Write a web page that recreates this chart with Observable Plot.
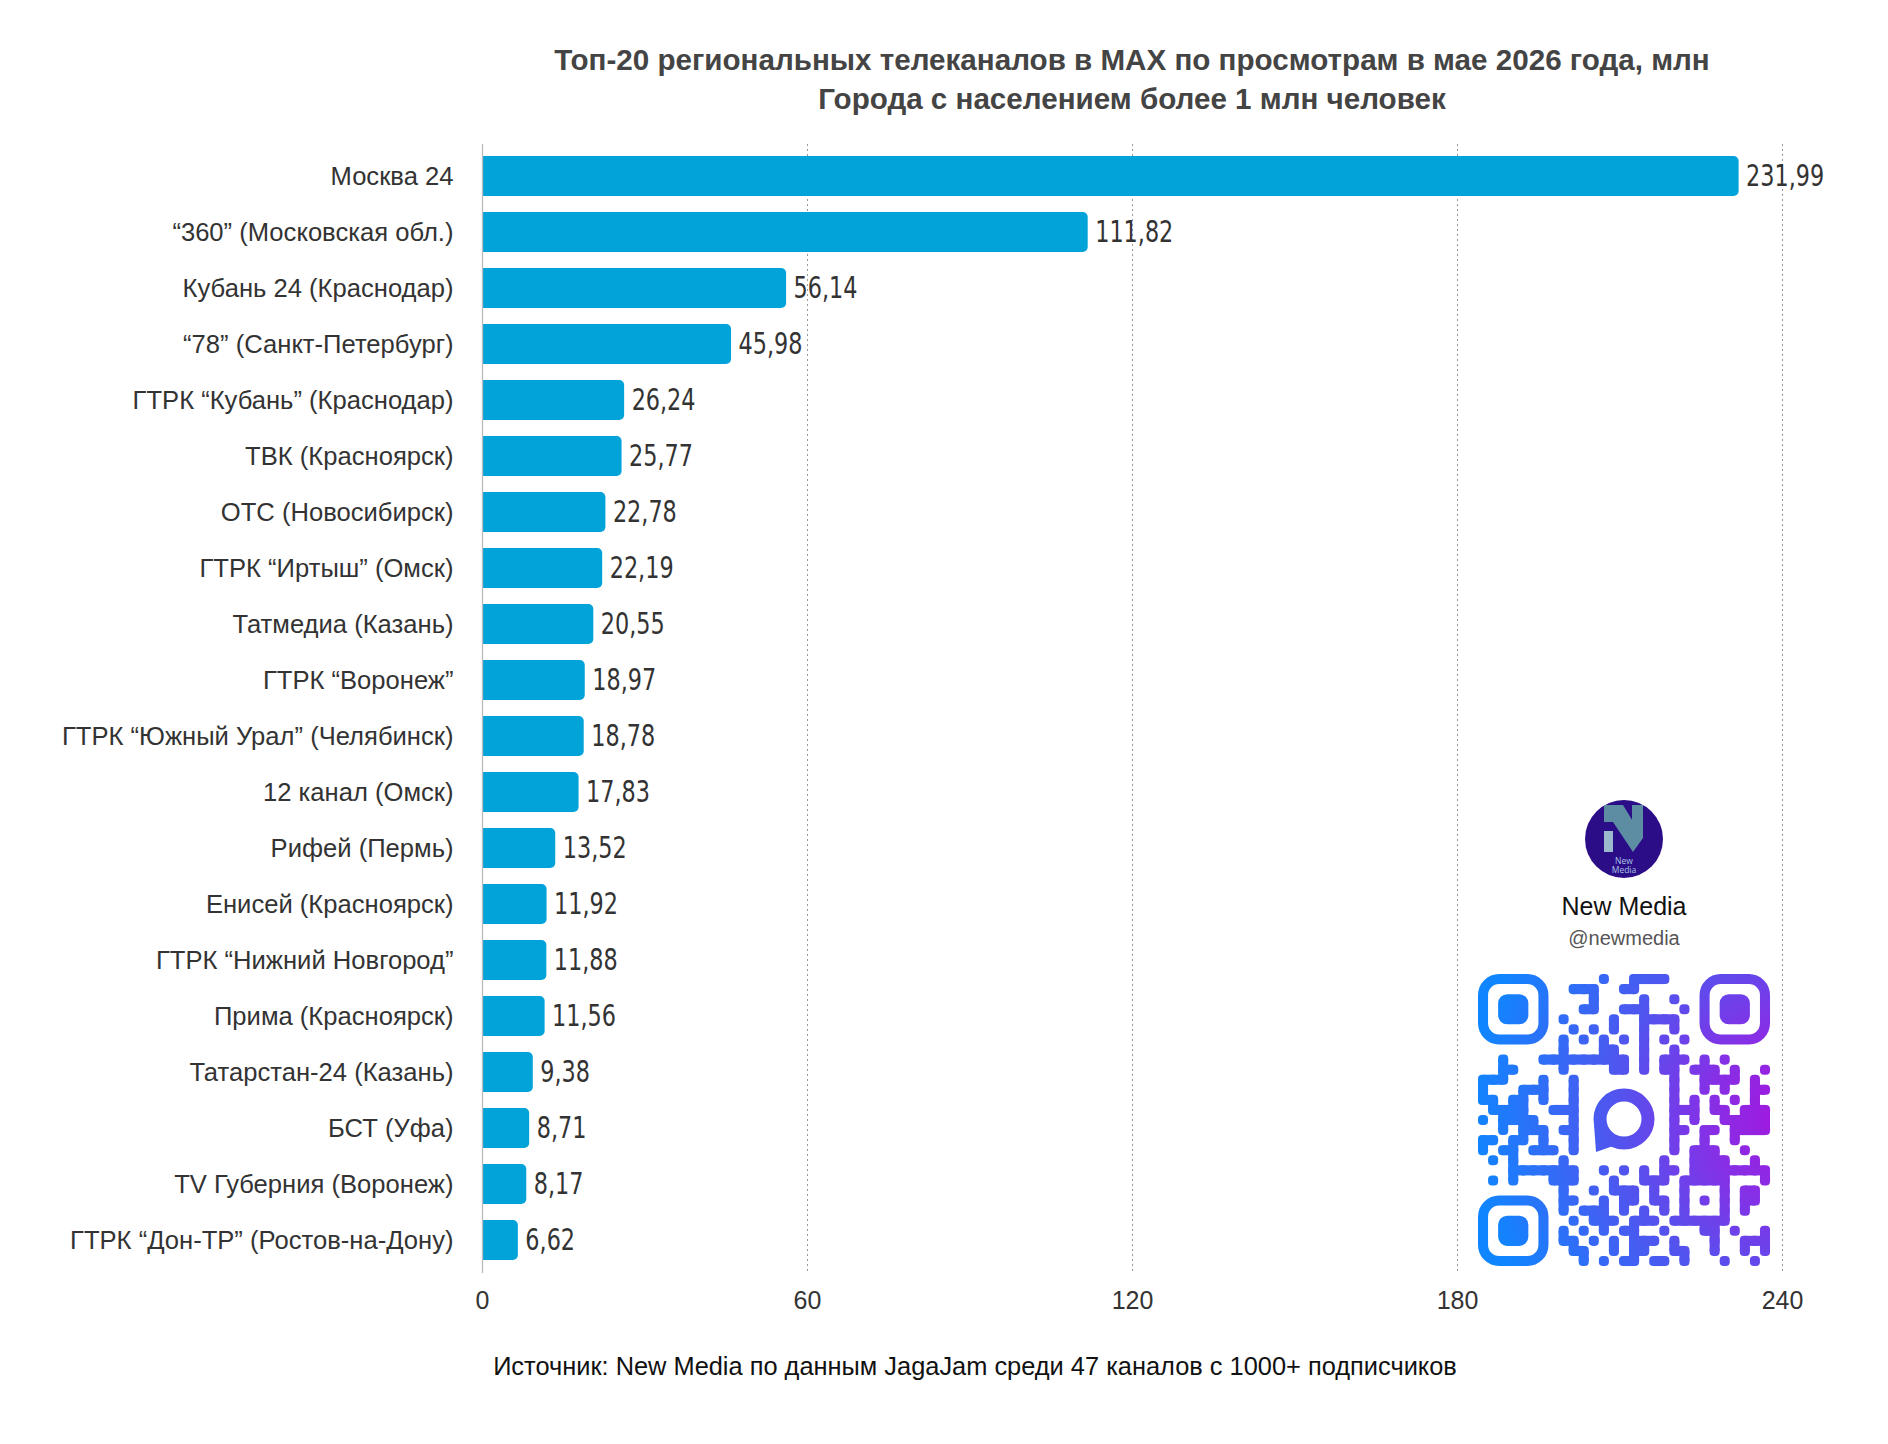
<!DOCTYPE html>
<html><head><meta charset="utf-8">
<script src="https://cdn.jsdelivr.net/npm/d3@7"></script>
<script src="https://cdn.jsdelivr.net/npm/@observablehq/plot@0.6"></script>
<style>
body{margin:0;background:#fff;}
#wrap{position:relative;width:1888px;height:1444px;overflow:hidden;background:#fff;font-family:"Liberation Sans",Arial,sans-serif;}
#title{position:absolute;left:432px;width:1400px;top:40px;text-align:center;font-weight:bold;font-size:29.6px;line-height:39px;color:#444;white-space:nowrap;}
#caption{position:absolute;left:375px;width:1200px;top:1351px;text-align:center;font-size:25.4px;line-height:30px;color:#111;white-space:nowrap;}
#chart{position:absolute;left:0;top:0;}
#deco{position:absolute;left:0;top:0;}
</style>
</head><body>
<div id="wrap">
  <div id="chart"></div>
  <div id="title">Топ-20 региональных телеканалов в MAX по просмотрам в мае 2026 года, млн<br>Города с населением более 1 млн человек</div>
  <div id="caption">Источник: New Media по данным JagaJam среди 47 каналов с 1000+ подписчиков</div>
  <svg id="deco" width="1888" height="1444"></svg>
</div>
<script>
const channels = [
  "Москва 24",
  "“360” (Московская обл.)",
  "Кубань 24 (Краснодар)",
  "“78” (Санкт-Петербург)",
  "ГТРК “Кубань” (Краснодар)",
  "ТВК (Красноярск)",
  "ОТС (Новосибирск)",
  "ГТРК “Иртыш” (Омск)",
  "Татмедиа (Казань)",
  "ГТРК “Воронеж”",
  "ГТРК “Южный Урал” (Челябинск)",
  "12 канал (Омск)",
  "Рифей (Пермь)",
  "Енисей (Красноярск)",
  "ГТРК “Нижний Новгород”",
  "Прима (Красноярск)",
  "Татарстан-24 (Казань)",
  "БСТ (Уфа)",
  "TV Губерния (Воронеж)",
  "ГТРК “Дон-ТР” (Ростов-на-Дону)"
];
const views = [231.99, 111.82, 56.14, 45.98, 26.24, 25.77, 22.78, 22.19, 20.55, 18.97,
               18.78, 17.83, 13.52, 11.92, 11.88, 11.56, 9.38, 8.71, 8.17, 6.62];
const xTicks = [0, 60, 120, 180, 240];

// decorative QR pattern (dark module columns per row, outside finder/center areas)
const qrRows = [
  [12,15,16,17,18],[9,10,11,14,15],[11,16,19],[10,11,14,15,16,20],[8,13,16,17,18,19],
  [9,11,13,16,19],[8,10,12,14,16,18,20],[8,12,13,16,19],
  [2,6,7,8,9,10,11,12,13,14,16,18,19,20,22,24],
  [2,3,8,13,14,16,18,19,21,22,23,25,28],
  [0,1,2,6,9,19,22,23,24,25,27],
  [0,4,5,6,9,19,22,24,27,28],
  [0,1,3,4,6,9,19,21,23,25,27],
  [1,2,3,4,7,8,9,19,20,21,23,24,26,27,28],
  [0,2,3,4,5,9,19,21,24,25,26,27,28],
  [2,4,5,6,8,9,19,20,22,23,25,26,27,28],
  [0,1,3,4,6,9,19,22,25],
  [0,2,3,5,6,7,9,19,21,22,23,26],
  [1,3,8,18,21,22,23,24,27],
  [3,4,5,6,7,8,9,12,14,16,18,19,21,22,23,24,25,26,27,28],
  [1,3,7,8,9,13,16,17,18,20,21,22,23,24,28],
  [8,11,13,14,15,17,20,24,26,27],
  [8,9,12,14,15,17,18,20,22,24,26,27],
  [8,10,11,12,14,16,18,20,24,26],
  [9,11,12,13,15,16,17,19,20,21,22,23,24],
  [8,10,12,14,15,18,22,23,25,28],
  [8,9,11,13,15,16,17,19,23,26,27,28],
  [9,10,13,15,16,19,20,23,26,28],
  [10,12,14,15,17,18,20,24,27]
];

const data = channels.map((name, i) => ({name, value: views[i]}));
const fmt = v => v.toFixed(2).replace(".", ",");
const barColor = "#02a3d9";

const chart = Plot.plot({
  width: 1888, height: 1444,
  marginLeft: 482, marginRight: 106, marginTop: 144, marginBottom: 171,
  style: {fontFamily: "'Liberation Sans', Arial, sans-serif", fontSize: "25px", color: "#333", background: "transparent"},
  x: {domain: [0, 240]},
  y: {domain: channels, paddingInner: 0.28, paddingOuter: 0.182, align: 0.5},
  marks: [
    Plot.ruleX(xTicks.filter(d => d > 0), {stroke: "#999", strokeDasharray: "2,3", strokeWidth: 1}),
    Plot.barX(data, {x: "value", y: "name", fill: barColor, rx: 5}),
    Plot.barX(data, {x1: 0, x2: d => d.value / 2, y: "name", fill: barColor}),
    Plot.ruleX([0], {stroke: "#bbb", strokeWidth: 1.3}),
    Plot.text(data, {x: "value", y: "name", text: d => fmt(d.value), dx: 7, textAnchor: "start",
      fontSize: 31, fill: "#333", fontFamily: "'Liberation Sans Narrow', 'DejaVu Sans Condensed', 'Roboto Condensed', sans-serif"}),
    Plot.axisY({tickSize: 0, tickPadding: 29, label: null, fontSize: 25.6, fill: "#333"}),
    Plot.axisX({ticks: xTicks, tickSize: 0, tickPadding: 18, label: null, fontSize: 25, fill: "#333"})
  ]
});
document.getElementById("chart").appendChild(chart);

// condense the value labels (reference uses a narrow typeface)
d3.select(chart).selectAll('g[aria-label="text"] text').each(function() {
  const w = this.getComputedTextLength();
  this.setAttribute("textLength", (w * 0.8).toFixed(1));
  this.setAttribute("lengthAdjust", "spacingAndGlyphs");
});

// ---- decoration: logo + QR ----
const svg = d3.select("#deco");
const defs = svg.append("defs");
const rg = defs.append("radialGradient").attr("id", "qrg").attr("gradientUnits", "userSpaceOnUse")
  .attr("cx", 1800).attr("cy", 1115).attr("r", 330);
[[0, "#a912dc"], [0.28, "#8630e6"], [0.55, "#5353ee"], [1, "#0f86ff"]].forEach(([o, c]) =>
  rg.append("stop").attr("offset", o).attr("stop-color", c));

// logo
const lg = svg.append("g");
lg.append("circle").attr("cx", 1624).attr("cy", 839).attr("r", 39).attr("fill", "#2b0d88");
lg.append("polygon").attr("points", "1604,805 1623,805 1643,838 1633,852 1613,822 1604,822").attr("fill", "#5c8da2");
lg.append("rect").attr("x", 1632).attr("y", 805).attr("width", 11).attr("height", 33).attr("fill", "#5c8da2");
lg.append("rect").attr("x", 1604).attr("y", 831).attr("width", 9).attr("height", 21).attr("fill", "#9ab9cd");
lg.append("text").attr("x", 1624).attr("y", 864).attr("text-anchor", "middle").attr("font-size", 8.5)
  .attr("font-family", "'Open Sans', sans-serif").attr("fill", "#a7c4e4").text("New");
lg.append("text").attr("x", 1624).attr("y", 873).attr("text-anchor", "middle").attr("font-size", 8.5)
  .attr("font-family", "'Open Sans', sans-serif").attr("fill", "#a7c4e4").text("Media");
lg.append("text").attr("x", 1624).attr("y", 915).attr("text-anchor", "middle").attr("font-size", 25)
  .attr("font-family", "'Liberation Sans', Arial, sans-serif").attr("fill", "#111").text("New Media");
lg.append("text").attr("x", 1624).attr("y", 945).attr("text-anchor", "middle").attr("font-size", 20)
  .attr("font-family", "'Liberation Sans', Arial, sans-serif").attr("fill", "#555").text("@newmedia");

// QR
const qx = 1478, qy = 974, m = 10.07;
const qg = svg.append("g").attr("fill", "url(#qrg)");
const dark = new Set();
qrRows.forEach((cols, r) => cols.forEach(c => dark.add(r * 29 + c)));
dark.forEach(k => {
  const r = Math.floor(k / 29), c = k % 29;
  const x = qx + c * m, y = qy + r * m;
  qg.append("rect").attr("x", x).attr("y", y).attr("width", m).attr("height", m).attr("rx", m * 0.4);
  if (dark.has(k + 1) && c < 28) qg.append("rect").attr("x", x + m / 2).attr("y", y).attr("width", m).attr("height", m);
  if (dark.has(k + 29)) qg.append("rect").attr("x", x).attr("y", y + m / 2).attr("width", m).attr("height", m);
});
[[0, 0], [22, 0], [0, 22]].forEach(([c, r]) => {
  const x = qx + c * m, y = qy + r * m;
  qg.append("rect").attr("x", x + m / 2).attr("y", y + m / 2).attr("width", 6 * m).attr("height", 6 * m)
    .attr("rx", 1.6 * m).attr("fill", "none").attr("stroke", "url(#qrg)").attr("stroke-width", m);
  qg.append("rect").attr("x", x + 2 * m).attr("y", y + 2 * m).attr("width", 3 * m).attr("height", 3 * m).attr("rx", 0.9 * m);
});
// center chat icon
const cx = qx + 14.5 * m, cy = qy + 14.4 * m;
qg.append("circle").attr("cx", cx).attr("cy", cy).attr("r", 24).attr("fill", "none")
  .attr("stroke", "url(#qrg)").attr("stroke-width", 13);
qg.append("path").attr("d", `M${cx - 30},${cy + 6} L${cx - 28},${cy + 33} L${cx - 8},${cy + 26} Z`);
</script>
</body></html>
